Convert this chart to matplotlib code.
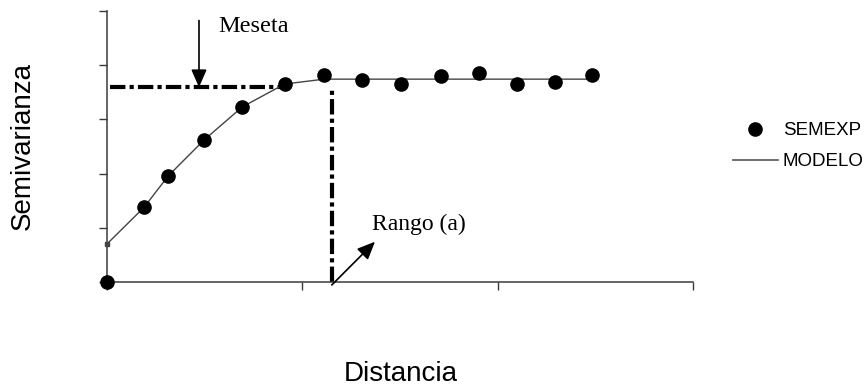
import matplotlib
matplotlib.use("Agg")
import matplotlib.pyplot as plt
from matplotlib.lines import Line2D

dist = [0, 1.91, 3.15, 4.98, 6.94, 9.10, 11.13, 13.06, 15.04, 17.08, 19.04, 21.0, 22.92, 24.84]
semexp = [0, 1.38, 1.96, 2.62, 3.23, 3.65, 3.82, 3.73, 3.65, 3.80, 3.86, 3.65, 3.69, 3.82]

# Fitted model line
model_x = [0, 1.91, 3.15, 4.98, 6.94, 9.10, 11.13, 24.84]
model_y = [0.70, 1.38, 1.96, 2.62, 3.23, 3.65, 3.74, 3.74]

sill = 3.59
range_a = 11.51

x_ticks = [0, 10, 20, 30]
y_ticks = [0, 1, 2, 3, 4, 5]

serif = ["Liberation Serif", "DejaVu Serif"]
sans = ["Liberation Sans", "DejaVu Sans"]

fig = plt.figure(figsize=(8.68, 3.88), dpi=100)
ax = fig.add_axes([106.7 / 868, 1 - 282.3 / 388, 586.6 / 868, 271.6 / 388])
ax.set_xlim(0, 30)
ax.set_ylim(0, 5)

for s in ["top", "right"]:
    ax.spines[s].set_visible(False)
for s in ["left", "bottom"]:
    ax.spines[s].set_color("#3a3a3a")
    ax.spines[s].set_linewidth(1.1)

ax.set_xticks(x_ticks)
ax.set_yticks(y_ticks)
ax.set_xticklabels([])
ax.set_yticklabels([])
ax.tick_params(direction="out", length=6, width=1.0, color="#3a3a3a")

# dash-dot reference lines
ax.plot([0.15, dist[5]], [sill, sill], color="black", lw=3,
        linestyle=(0, (3.7, 1, 1, 1)), dash_capstyle="butt")
ax.plot([range_a, range_a], [0, sill], color="black", lw=3,
        linestyle=(0, (3.7, 1, 1, 1)), dash_capstyle="butt", clip_on=False)

# model and points
ax.plot(model_x, model_y, color="#444444", lw=1.0, label="MODELO", zorder=3,
        marker="s", markersize=3, markevery=[0], clip_on=False)
ax.plot(dist, semexp, "o", color="black", markersize=9.5, label="SEMEXP",
        zorder=4, clip_on=False)

# annotations
arrow_style = dict(arrowstyle="-|>,head_length=0.8,head_width=0.35",
                   mutation_scale=13.5, color="black", lw=1.2,
                   shrinkA=0, shrinkB=0)
ax.annotate("", xy=(4.72, sill), xytext=(4.72, 4.82),
            arrowprops=arrow_style, annotation_clip=False)
ax.text(5.71, 4.61, "Meseta", family=serif, fontsize=17.5, ha="left", va="baseline")

ax.annotate("", xy=(13.72, 0.747), xytext=(range_a, -0.05),
            arrowprops=arrow_style, annotation_clip=False)
ax.text(13.55, 0.963, "Rango (a)", family=serif, fontsize=17, ha="left", va="baseline")

# axis labels
ax.set_xlabel("Distancia", family=sans, fontsize=20)
ax.xaxis.set_label_coords((400.5 - 106.7) / 586.6, (282.3 - 374) / 271.6)
ax.xaxis.label.set_va("center")
ax.set_ylabel("Semivarianza", family=sans, fontsize=20)
ax.yaxis.set_label_coords((23 - 106.7) / 586.6, (282.3 - 146) / 271.6)
ax.yaxis.label.set_va("center")
ax.yaxis.label.set_ha("center")

# legend
handles = [Line2D([], [], marker="o", color="black", linestyle="none", markersize=9.5),
           Line2D([], [], color="#555555", lw=1.2)]
leg = fig.legend(handles, ["SEMEXP", "MODELO"], loc="upper left",
                 bbox_to_anchor=(732.7 / 868, 1 - 122 / 388),
                 bbox_transform=fig.transFigure, frameon=False,
                 borderpad=0, borderaxespad=0, handlelength=2.43,
                 handletextpad=0.25, labelspacing=0.76,
                 prop={"family": sans, "size": 13.5})

fig.savefig("out.png", dpi=100)
